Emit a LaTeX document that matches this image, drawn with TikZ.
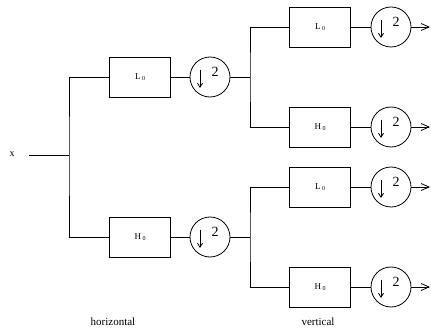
\documentclass[tikz,border=0pt]{standalone}
\usepackage{fontspec}
\setmainfont{Liberation Serif}
\usetikzlibrary{arrows.meta,calc}

\tikzset{
  x=1pt, y=-1pt,
  wire/.style={line width=0.8pt},
  filt/.style={draw, line width=0.8pt, minimum width=61pt, minimum height=40pt,
               inner sep=0pt, font=\fontsize{9}{9}\selectfont},
  dsamp/.style={draw, circle, line width=0.8pt, minimum size=40pt, inner sep=0pt,
    path picture={
      \draw[line width=0.8pt, -{Straight Barb[length=4pt,width=5pt]}]
        ($(path picture bounding box.center)+(-10,-7)$) -- ++(0,18);
      \node[inner sep=0pt, font=\fontsize{14}{14}\selectfont]
        at ($(path picture bounding box.center)+(5,-5)$) {2};
    }},
  outarrow/.style={line width=0.8pt, -{Straight Barb[length=8pt,width=7pt]}},
  caption/.style={font=\fontsize{11}{11}\selectfont, inner sep=0pt}
}
% filter label: capital letter with a small index
\newcommand{\flabel}[1]{#1\,\raisebox{-0.3pt}{\fontsize{6}{6}\selectfont 0}}

\begin{document}
\begin{tikzpicture}
\useasboundingbox (0,0) rectangle (431,331);

% input
\node[inner sep=0pt, font=\fontsize{10}{10}\selectfont] (xin) at (12,154) {x};
\coordinate (xstart) at (29,155);
\coordinate (j1) at (69,155);

% horizontal stage
\node[filt] (hL) at (140,77) {\flabel{L}};
\node[filt] (hH) at (140,237) {\flabel{H}};
\node[dsamp] (hLd) at (210,77) {};
\node[dsamp] (hHd) at (210,237) {};

% vertical stage, upper branch
\coordinate (j2) at (250,77);
\node[filt] (vLL) at (320,27) {\flabel{L}};
\node[filt] (vLH) at (320,127) {\flabel{H}};
\node[dsamp] (vLLd) at (391,27) {};
\node[dsamp] (vLHd) at (391,127) {};

% vertical stage, lower branch
\coordinate (j3) at (250,237);
\node[filt] (vHL) at (320,187) {\flabel{L}};
\node[filt] (vHH) at (320,287) {\flabel{H}};
\node[dsamp] (vHLd) at (391,187) {};
\node[dsamp] (vHHd) at (391,287) {};

% outputs
\coordinate (o1) at (430,27);
\coordinate (o2) at (430,127);
\coordinate (o3) at (430,187);
\coordinate (o4) at (430,287);

% wiring
\draw[wire] (xstart) -- (j1);
\draw[wire] (hL.west) -| (j1) |- (hH.west);
\draw[wire] (hL) -- (hLd);
\draw[wire] (hH) -- (hHd);
\draw[wire] (hLd) -- (j2);
\draw[wire] (hHd) -- (j3);
\draw[wire] (vLL.west) -| (j2) |- (vLH.west);
\draw[wire] (vHL.west) -| (j3) |- (vHH.west);
\draw[wire] (vLL) -- (vLLd);
\draw[wire] (vLH) -- (vLHd);
\draw[wire] (vHL) -- (vHLd);
\draw[wire] (vHH) -- (vHHd);
\draw[outarrow] (vLLd) -- (o1);
\draw[outarrow] (vLHd) -- (o2);
\draw[outarrow] (vHLd) -- (o3);
\draw[outarrow] (vHHd) -- (o4);

% captions
\node[caption] (caph) at (113,322) {horizontal};
\node[caption] (capv) at (318,322) {vertical};
\end{tikzpicture}
\end{document}
